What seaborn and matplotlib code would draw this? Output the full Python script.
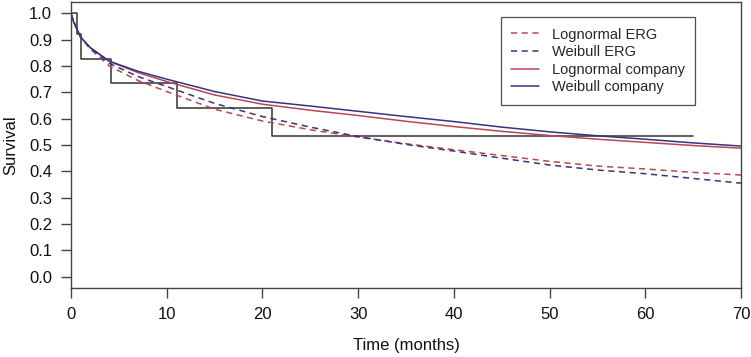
import matplotlib
matplotlib.use("Agg")
import matplotlib.pyplot as plt
import seaborn as sns
import pandas as pd
import numpy as np

sns.set_theme(style="white")
plt.rcParams['font.family'] = ['Liberation Sans', 'DejaVu Sans']

# Kaplan-Meier step data
km_time = [0, 0.6, 1.0, 4.15, 11.1, 21.0, 65.0]
km_surv = [1.0, 0.92, 0.827, 0.734, 0.642, 0.534, 0.534]

# Model curves
t = [0, 0.25, 0.5, 1, 2, 4, 7, 10, 15, 20, 25, 30, 35, 40, 45, 50, 55, 60, 65, 70]
lognormal_erg = [1.0, 0.97, 0.95, 0.91, 0.865, 0.80, 0.745, 0.703, 0.636, 0.591, 0.558,
                 0.530, 0.505, 0.482, 0.460, 0.438, 0.420, 0.409, 0.396, 0.386]
weibull_erg = [1.0, 0.97, 0.95, 0.91, 0.868, 0.81, 0.760, 0.722, 0.658, 0.608, 0.568,
               0.532, 0.502, 0.477, 0.450, 0.424, 0.405, 0.391, 0.373, 0.355]
lognormal_company = [1.0, 0.97, 0.95, 0.91, 0.87, 0.818, 0.775, 0.741, 0.690, 0.655, 0.632,
                     0.612, 0.590, 0.570, 0.552, 0.536, 0.522, 0.510, 0.498, 0.488]
weibull_company = [1.0, 0.97, 0.95, 0.91, 0.87, 0.818, 0.780, 0.750, 0.703, 0.667, 0.648,
                   0.628, 0.608, 0.589, 0.568, 0.550, 0.535, 0.522, 0.508, 0.496]

series_names = ["Lognormal ERG", "Weibull ERG", "Lognormal company", "Weibull company"]
series_vals = [lognormal_erg, weibull_erg, lognormal_company, weibull_company]

rows = []
for name, vals in zip(series_names, series_vals):
    for ti, v in zip(t, vals):
        rows.append({"Time": ti, "Survival": v, "Model": name})
df = pd.DataFrame(rows)
km_df = pd.DataFrame({"Time": km_time, "Survival": km_surv})

red = "#BC4650"
blue = "#33357F"
palette = {"Lognormal ERG": red, "Weibull ERG": blue,
           "Lognormal company": red, "Weibull company": blue}
dashes = {"Lognormal ERG": (4, 3), "Weibull ERG": (4, 3),
          "Lognormal company": "", "Weibull company": ""}

fig = plt.figure(figsize=(7.51, 3.57), dpi=100)
ax = fig.add_axes([71/751, 1 - 288/357, 670/751, 286/357])

sns.lineplot(data=km_df, x="Time", y="Survival", ax=ax, color="#333333",
             linewidth=1.1, drawstyle="steps-post", estimator=None, legend=False)
sns.lineplot(data=df, x="Time", y="Survival", hue="Model", style="Model",
             hue_order=series_names, style_order=series_names,
             palette=palette, dashes=dashes, ax=ax, linewidth=1.1, estimator=None)

ax.set_xlim(0, 70)
ax.set_ylim(-0.043, 1.043)
ax.set_xticks(np.arange(0, 71, 10))
ax.set_yticks(np.round(np.arange(0, 1.01, 0.1), 1))
ax.set_yticklabels([f"{v:.1f}" for v in np.arange(0, 1.01, 0.1)])
ax.tick_params(axis="both", direction="out", length=7, width=1, color="#444444",
               labelsize=12, labelcolor="#111111", left=True, bottom=True)
ax.tick_params(axis="x", pad=6.5)
ax.tick_params(axis="y", pad=6.5)
for s in ax.spines.values():
    s.set_color("#444444")
    s.set_linewidth(1.0)
ax.set_xlabel("Time (months)", fontsize=12, color="#111111", labelpad=12)
ax.set_ylabel("Survival", fontsize=12, color="#111111")
ax.yaxis.set_label_coords(-0.079, 0.5)

handles, labels = ax.get_legend_handles_labels()
leg = ax.legend(handles, labels, loc="upper left", bbox_to_anchor=(0.642, 0.9465),
                frameon=True, fancybox=False, edgecolor="#222222", fontsize=10.5,
                handlelength=1.9, handletextpad=0.9, borderpad=0.7,
                labelspacing=0.25, borderaxespad=0)
leg.get_frame().set_linewidth(0.9)

fig.savefig("out.png", dpi=100)
